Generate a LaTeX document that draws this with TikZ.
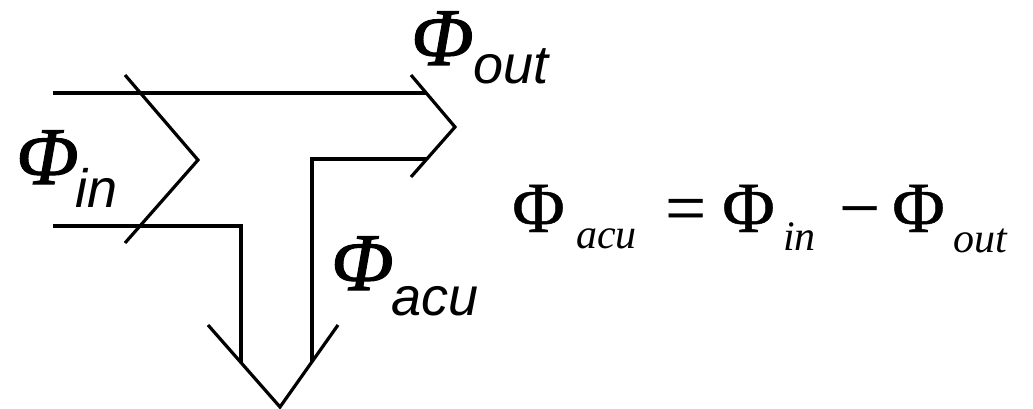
\documentclass[tikz,border=0pt]{standalone}
\usepackage{fontspec}
\newfontfamily\serf{Liberation Serif}
\newfontfamily\phif[FakeBold=1.3]{Liberation Serif}
\newfontfamily\eqphif[FakeBold=0.6]{Liberation Serif}
\newfontfamily\sanf{Liberation Sans}
\tikzset{
  flow/.style={line width=3.2pt, line join=miter},
  bigphi/.style={inner sep=0pt, anchor=base west, font=\phif\itshape\fontsize{82}{88}\selectfont},
  sublbl/.style={inner sep=0pt, anchor=base west, font=\sanf\itshape\fontsize{54}{60}\selectfont},
  eqbig/.style={inner sep=0pt, anchor=base west, font=\eqphif\fontsize{72}{78}\selectfont},
  eqsub/.style={inner sep=0pt, anchor=base west, font=\serf\itshape\fontsize{42}{48}\selectfont}
}
\begin{document}
\begin{tikzpicture}[x=1pt,y=-1pt]
\useasboundingbox (0,0) rectangle (1033,409);
% coordinates
\coordinate (tl) at (53,93);
\coordinate (tr) at (426,93);
\coordinate (oa) at (411,75);
\coordinate (ot) at (455,127);
\coordinate (ob) at (411,177);
\coordinate (ir) at (427,159);
\coordinate (ic) at (312,159);
\coordinate (ie) at (312,362);
\coordinate (ia) at (125,75);
\coordinate (it) at (198,160);
\coordinate (ib) at (125,243);
\coordinate (bl) at (53,226);
\coordinate (bc) at (241,226);
\coordinate (be) at (241,363);
\coordinate (da) at (208,325);
\coordinate (dt) at (280,407);
\coordinate (db) at (338,325);
% shapes
\draw[flow] (tl) -- (tr);
\draw[flow] (oa) -- (ot) -- (ob);
\draw[flow] (ir) -- (ic) -- (ie);
\draw[flow] (ia) -- (it) -- (ib);
\draw[flow] (bl) -- (bc) -- (be);
\draw[flow] (da) -- (dt) -- (db);
% labels
\node[bigphi] (phin) at (16,184) {Φ};
\node[sublbl] (subin) at (75,207) {in};
\node[bigphi] (phout) at (411,65) {Φ};
\node[sublbl] (subout) at (473,84) {out};
\node[bigphi] (phacu) at (331,290) {Φ};
\node[sublbl] (subacu) at (391,315) {acu};
% equation
\node[eqbig] (e1) at (512,232) {Φ};
\node[eqsub] (e1s) at (576,248) {acu};
\node[eqbig] (eq) at (665,232) {=};
\node[eqbig] (e2) at (722,232) {Φ};
\node[eqsub] (e2s) at (783,250) {in};
\node[eqbig] (mi) at (839,232) {−};
\node[eqbig] (e3) at (892,232) {Φ};
\node[eqsub] (e3s) at (953,252) {out};
\end{tikzpicture}
\end{document}
